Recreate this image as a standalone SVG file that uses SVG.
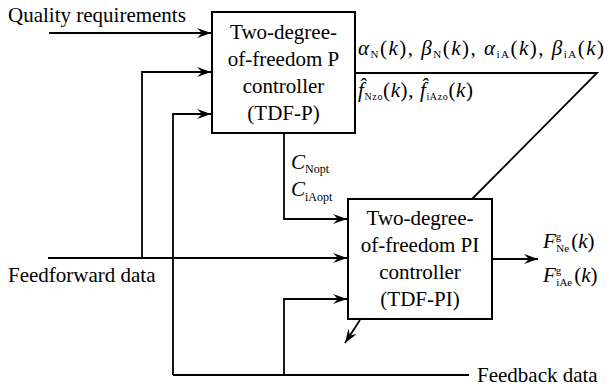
<svg xmlns="http://www.w3.org/2000/svg" width="611" height="390" viewBox="0 0 611 390">
<style>
text{font-family:"Liberation Serif","Times New Roman",serif;fill:#000;font-size:21px}
.c{text-anchor:middle}
.i{font-style:italic}
.s{font-size:11px}
.box{fill:#fff;stroke:#000;stroke-width:2}
.ln{fill:none;stroke:#000;stroke-width:1.8}
</style>
<defs>
<marker id="ah" viewBox="0 0 14 10" refX="14" refY="5" markerWidth="14" markerHeight="10" markerUnits="userSpaceOnUse" orient="auto">
<path d="M0,0 L14,5 L0,10 L5,5 Z" fill="#000"/>
</marker>
</defs>
<rect width="611" height="390" fill="#fff"/>
<g id="connectors">
<path class="ln" d="M49,33 H211" marker-end="url(#ah)"/>
<path class="ln" d="M142,258 V72 H211" marker-end="url(#ah)"/>
<path class="ln" d="M173,375 V114 H211" marker-end="url(#ah)"/>
<path class="ln" d="M48,258 H347" marker-end="url(#ah)"/>
<path class="ln" d="M284,133 V219 H347" marker-end="url(#ah)"/>
<path class="ln" d="M173,375 H469"/>
<path class="ln" d="M284,375 V299 H347" marker-end="url(#ah)"/>
<path class="ln" d="M355,73 H597 L472,199"/>
<path class="ln" d="M492,259 H538" marker-end="url(#ah)"/>
<path class="ln" d="M360,320 L345,343" marker-end="url(#ah)"/>
</g>
<g id="tdf-p">
<rect class="box" x="212" y="12" width="143" height="121"/>
<text class="c" x="283.5" y="39">Two-degree-</text>
<text class="c" x="283.5" y="66">of-freedom P</text>
<text class="c" x="283.5" y="93">controller</text>
<text class="c" x="283.5" y="120">(TDF-P)</text>
</g>
<g id="tdf-pi">
<rect class="box" x="348" y="199" width="144" height="120"/>
<text class="c" x="420" y="225">Two-degree-</text>
<text class="c" x="420" y="252">of-freedom PI</text>
<text class="c" x="420" y="279">controller</text>
<text class="c" x="420" y="306">(TDF-PI)</text>
</g>
<g id="labels">
<text x="8" y="22">Quality requirements</text>
<text x="8" y="282">Feedforward data</text>
<text x="477" y="382">Feedback data</text>
<text x="358" y="55" textLength="246" lengthAdjust="spacing"><tspan class="i">α</tspan><tspan class="s" dy="3">N</tspan><tspan dy="-3">(</tspan><tspan class="i">k</tspan>), <tspan class="i">β</tspan><tspan class="s" dy="3">N</tspan><tspan dy="-3">(</tspan><tspan class="i">k</tspan>), <tspan class="i">α</tspan><tspan class="s" dy="3">iA</tspan><tspan dy="-3">(</tspan><tspan class="i">k</tspan>), <tspan class="i">β</tspan><tspan class="s" dy="3">iA</tspan><tspan dy="-3">(</tspan><tspan class="i">k</tspan>)</text>
<text x="358" y="97" textLength="115" lengthAdjust="spacing"><tspan class="i">f̂</tspan><tspan font-size="10" dy="3">Nzo</tspan><tspan dy="-3">(</tspan><tspan class="i">k</tspan>), <tspan class="i">f̂</tspan><tspan font-size="10" dy="3">iAzo</tspan><tspan dy="-3">(</tspan><tspan class="i">k</tspan>)</text>
<text x="291" y="169"><tspan class="i">C</tspan><tspan font-size="12" dy="4">Nopt</tspan></text>
<text x="291" y="196"><tspan class="i">C</tspan><tspan font-size="12" dy="5">iAopt</tspan></text>
<text x="543" y="248"><tspan class="i">F</tspan><tspan font-size="11" dy="-8">g</tspan><tspan font-size="11" dx="-5" dy="12">Ne</tspan><tspan dy="-4" dx="2">(</tspan><tspan class="i">k</tspan>)</text>
<text x="543" y="282"><tspan class="i">F</tspan><tspan font-size="11" dy="-8">g</tspan><tspan font-size="11" dx="-5" dy="12">iAe</tspan><tspan dy="-4" dx="2">(</tspan><tspan class="i">k</tspan>)</text>
</g>
</svg>
